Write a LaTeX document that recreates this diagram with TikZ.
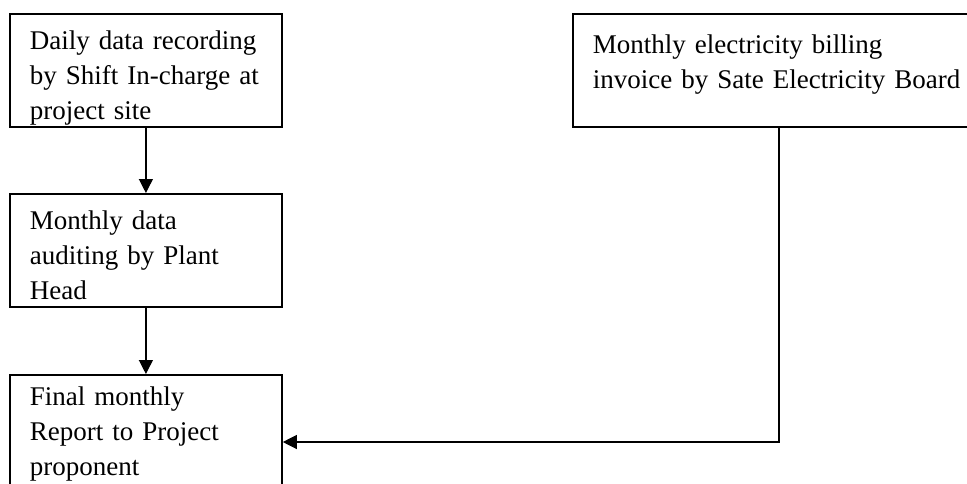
\documentclass[tikz,border=0pt]{standalone}
\usepackage{fontspec}
\setmainfont{Liberation Serif}
\usetikzlibrary{arrows.meta}
\tikzset{
  stepbox/.style={draw=black, line width=1.8pt, anchor=north west,
    inner xsep=20pt, inner ysep=11.5pt, text width=232pt, align=left,
    text height=24.5pt, text depth=65.5pt,
    font=\fontsize{27}{35}\selectfont},
  flow/.style={line width=1.2pt, -{Triangle[length=14pt,width=14pt]}}
}
\begin{document}
\begin{tikzpicture}[x=1pt,y=-1pt]
    \clip (0,0) rectangle (967,483);
    \node[stepbox] (daily) at (9,13) {Daily data recording\\ by Shift In-charge at\\ project site};
    \node[stepbox] (audit) at (9,193) {Monthly data\\ auditing by Plant\\ Head};
    \node[stepbox,text height=19.5pt,text depth=74pt] (report) at (9,374) {Final monthly\\ Report to Project\\ proponent};
    \node[stepbox,text width=372pt,text height=28pt,text depth=62pt] (bill) at (572,13) {Monthly electricity billing\\ invoice by Sate Electricity Board};
    \coordinate (turn) at (778,442);
    \draw[flow] (daily.south) -- (audit.north);
    \draw[flow] (audit.south) -- (report.north);
    \draw[flow] (bill.south) -- (bill.south |- turn) -- (turn -| report.east);
  \end{tikzpicture}
\end{document}
